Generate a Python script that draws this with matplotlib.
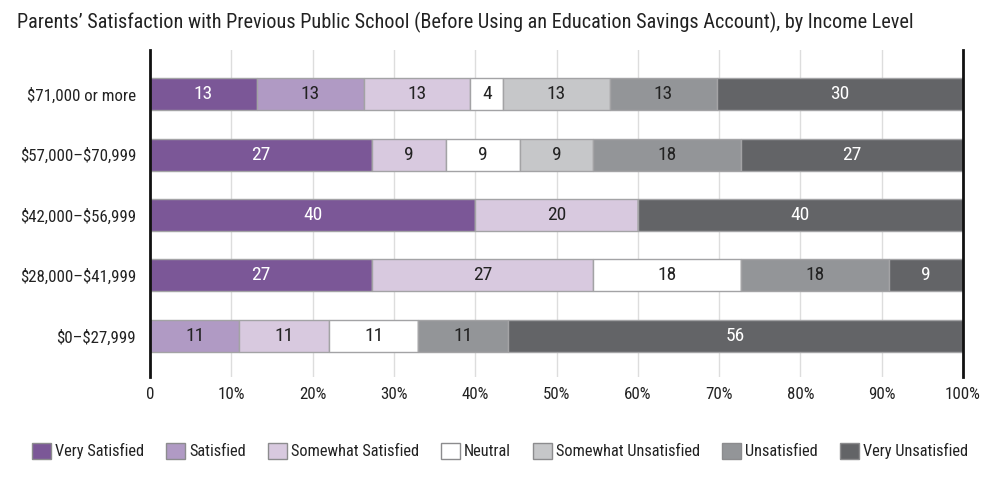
import numpy as np
import matplotlib
matplotlib.use("Agg")
import matplotlib.pyplot as plt
from matplotlib.patches import Patch

plt.rcParams["font.family"] = ["Roboto Condensed", "Archivo Narrow", "Asap Condensed", "DejaVu Sans"]

income_levels = [
    "\\$71,000 or more",
    "\\$57,000\u2013\\$70,999",
    "\\$42,000\u2013\\$56,999",
    "\\$28,000\u2013\\$41,999",
    "\\$0\u2013\\$27,999",
]

categories = [
    "Very Satisfied",
    "Satisfied",
    "Somewhat Satisfied",
    "Neutral",
    "Somewhat Unsatisfied",
    "Unsatisfied",
    "Very Unsatisfied",
]

# percent values per category, one entry per income level (top to bottom)
very_satisfied = [13, 27, 40, 27, 0]
satisfied = [13, 0, 0, 0, 11]
somewhat_satisfied = [13, 9, 20, 27, 11]
neutral = [4, 9, 0, 18, 11]
somewhat_unsatisfied = [13, 9, 0, 0, 0]
unsatisfied = [13, 18, 0, 18, 11]
very_unsatisfied = [30, 27, 40, 9, 56]

colors = ["#7b5797", "#b09ac4", "#d8c9df", "#ffffff", "#c6c7c9", "#939598", "#636467"]
text_colors = ["white", "#222222", "#222222", "#222222", "#222222", "#222222", "white"]

series = np.array([very_satisfied, satisfied, somewhat_satisfied, neutral,
                   somewhat_unsatisfied, unsatisfied, very_unsatisfied], dtype=float)
# rounded labels -> stretch each row to a full 100%
shares = series / series.sum(axis=0) * 100

fig = plt.figure(figsize=(10, 5.01), dpi=100)
ax = fig.add_axes([0.150, 0.2475, 0.813, 0.6527])

y = np.arange(len(income_levels))[::-1]
left = np.zeros(len(income_levels))
for i, cat in enumerate(categories):
    ax.barh(y, shares[i], left=left, height=0.53, color=colors[i],
            edgecolor="#a3a3a5", linewidth=1, zorder=3)
    for j in range(len(income_levels)):
        if series[i, j] > 0:
            ax.text(left[j] + shares[i, j] / 2, y[j], f"{series[i, j]:.0f}",
                    ha="center", va="center", fontsize=14,
                    color=text_colors[i], zorder=4)
    left += shares[i]

ax.set_xlim(0, 100)
ax.set_ylim(-0.68, 4.73)
ax.set_xticks(np.arange(0, 101, 10))
ax.set_xticklabels(["0"] + [f"{v}%" for v in range(10, 101, 10)])
ax.set_yticks(y)
ax.set_yticklabels(income_levels)
ax.tick_params(axis="both", length=0, labelsize=12.2, colors="#222222")
ax.tick_params(axis="y", pad=10)
ax.tick_params(axis="x", pad=7)
ax.grid(axis="x", color="#dddddd", linewidth=1, zorder=0)
for s in ["top", "bottom"]:
    ax.spines[s].set_visible(False)
for s in ["left", "right"]:
    ax.spines[s].set_color("#111111")
    ax.spines[s].set_linewidth(2)
    ax.spines[s].set_zorder(5)

fig.text(0.017, 0.955, "Parents\u2019 Satisfaction with Previous Public School (Before Using an "
         "Education Savings Account), by Income Level",
         ha="left", va="center", fontsize=14.6, color="#222222")

handles = [Patch(facecolor=c, edgecolor="#8c8c8e", linewidth=1) for c in colors]
fig.legend(handles, categories, loc="center", bbox_to_anchor=(0.5, 0.1), ncol=7,
           frameon=False, fontsize=11.8, handlelength=1.15, handleheight=1.15,
           handletextpad=0.25, columnspacing=1.35, labelcolor="#222222")

fig.savefig("out.png", dpi=100)
